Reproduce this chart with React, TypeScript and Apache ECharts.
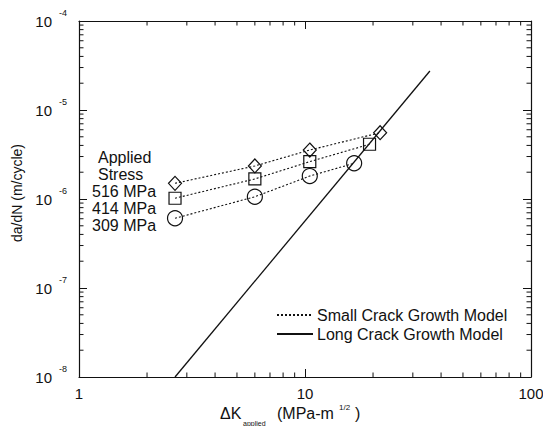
import React, { useEffect, useRef } from 'react';
import * as echarts from 'echarts';

const FONT = '"Liberation Sans", Arial, Helvetica, sans-serif';
const INK = '#111';

// Axis ranges
const X_MIN = 1;
const X_MAX = 100;
const Y_MIN = 1e-8;
const Y_MAX = 1e-4;

// Small-crack growth model predictions, one set per applied stress
const stressLabels = ['516 MPa', '414 MPa', '309 MPa'];
const dK516 = [2.66, 6.0, 10.5, 21.5];
const rate516 = [1.5e-6, 2.35e-6, 3.55e-6, 5.56e-6];
const dK414 = [2.66, 6.0, 10.5, 19.3];
const rate414 = [1.02e-6, 1.68e-6, 2.63e-6, 4.12e-6];
const dK309 = [2.66, 6.0, 10.5, 16.5];
const rate309 = [6.07e-7, 1.06e-6, 1.81e-6, 2.52e-6];

// Long-crack growth model (straight line on log-log axes)
const dKLong = [2.66, 35.7];
const rateLong = [1e-8, 2.74e-5];

// Minor tick positions (2..9 within each decade)
const minorMultipliers = [2, 3, 4, 5, 6, 7, 8, 9];
const xDecades = [1, 10];
const yDecades = [1e-8, 1e-7, 1e-6, 1e-5];

const zip = (xs: number[], ys: number[]) => xs.map((x, i) => [x, ys[i]]);

export default function App() {
  const ref = useRef<HTMLDivElement>(null);

  useEffect(() => {
    if (!ref.current) return;
    const chart = echarts.init(ref.current, undefined, { renderer: 'svg' });

    const minorData: number[][] = [];
    xDecades.forEach((d) => minorMultipliers.forEach((m) => minorData.push([d * m, Y_MIN, 0])));
    yDecades.forEach((d) => minorMultipliers.forEach((m) => minorData.push([X_MIN, d * m, 1])));

    const tickStyle = { stroke: INK, lineWidth: 1 };
    const MINOR_LEN = 4.5;

    const axisLine = { show: true, onZero: false, lineStyle: { color: INK, width: 1.2 } };
    const axisTick = { show: true, inside: true, length: 8, lineStyle: { color: INK, width: 1 } };

    const smallLine = { color: INK, width: 1.1, type: [2, 2] as number[] };
    const hollow = { color: 'rgba(0,0,0,0)', borderColor: INK, borderWidth: 1.2 };

    const markerSeries = [
      { data: zip(dK516, rate516), symbol: 'diamond', symbolSize: [13, 14] },
      { data: zip(dK414, rate414), symbol: 'rect', symbolSize: 12 },
      { data: zip(dK309, rate309), symbol: 'circle', symbolSize: 15 },
    ].map((s, i) => ({
      type: 'line',
      name: stressLabels[i],
      data: s.data,
      symbol: s.symbol,
      symbolSize: s.symbolSize,
      showSymbol: true,
      itemStyle: hollow,
      lineStyle: smallLine,
      silent: true,
      z: 3,
    }));

    const txt = (text: string, x: number, y: number, fontSize: number, align = 'left') => ({
      type: 'text',
      x,
      y,
      style: {
        text,
        fontSize,
        fontFamily: FONT,
        fill: INK,
        align,
        verticalAlign: 'middle',
      },
    });

    chart.setOption({
      animation: false,
      backgroundColor: '#fff',
      grid: { left: 79, right: 12, top: 21, bottom: 49, containLabel: false, outerBoundsMode: 'none' },
      xAxis: [
        {
          type: 'log',
          logBase: 10,
          min: X_MIN,
          max: X_MAX,
          position: 'bottom',
          axisLine,
          axisTick,
          splitLine: { show: false },
          axisLabel: {
            margin: 9,
            fontSize: 15,
            fontFamily: FONT,
            color: INK,
            formatter: (v: number) => String(Math.round(v)),
          },
        },
        {
          type: 'log',
          logBase: 10,
          min: X_MIN,
          max: X_MAX,
          position: 'top',
          axisLine,
          axisTick,
          splitLine: { show: false },
          axisLabel: { show: false },
        },
      ],
      yAxis: [
        {
          type: 'log',
          logBase: 10,
          min: Y_MIN,
          max: Y_MAX,
          position: 'left',
          axisLine,
          axisTick,
          splitLine: { show: false },
          axisLabel: {
            margin: 12,
            formatter: (v: number) => `{b|10}{s|${Math.round(Math.log10(v))}}`,
            rich: {
              b: { fontSize: 15, fontFamily: FONT, color: INK, lineHeight: 26 },
              s: { fontSize: 9, fontFamily: FONT, color: INK, verticalAlign: 'top', padding: [0, 0, 0, 7] },
            },
          },
        },
        {
          type: 'log',
          logBase: 10,
          min: Y_MIN,
          max: Y_MAX,
          position: 'right',
          axisLine,
          axisTick,
          splitLine: { show: false },
          axisLabel: { show: false },
        },
      ],
      legend: {
        orient: 'vertical',
        left: 276,
        top: 307,
        padding: 0,
        itemWidth: 36,
        itemHeight: 14,
        itemGap: 3,
        selectedMode: false,
        itemStyle: { opacity: 0, borderWidth: 0 },
        data: ['Small Crack Growth Model', 'Long Crack Growth Model'],
        textStyle: { fontSize: 16, fontFamily: FONT, color: INK, padding: [0, 0, 0, -1] },
      },
      series: [
        {
          type: 'custom',
          silent: true,
          xAxisIndex: 0,
          yAxisIndex: 0,
          data: minorData,
          encode: { x: 0, y: 1 },
          clip: false,
          renderItem: (params: any, api: any) => {
            const cs = params.coordSys;
            const kind = api.value(2);
            if (kind === 0) {
              const px = api.coord([api.value(0), Y_MIN])[0];
              const bottom = cs.y + cs.height;
              return {
                type: 'group',
                children: [
                  { type: 'line', shape: { x1: px, y1: bottom, x2: px, y2: bottom - MINOR_LEN }, style: tickStyle },
                  { type: 'line', shape: { x1: px, y1: cs.y, x2: px, y2: cs.y + MINOR_LEN }, style: tickStyle },
                ],
              };
            }
            const py = api.coord([X_MIN, api.value(1)])[1];
            const right = cs.x + cs.width;
            return {
              type: 'group',
              children: [
                { type: 'line', shape: { x1: cs.x, y1: py, x2: cs.x + MINOR_LEN, y2: py }, style: tickStyle },
                { type: 'line', shape: { x1: right, y1: py, x2: right - MINOR_LEN, y2: py }, style: tickStyle },
              ],
            };
          },
        },
        {
          type: 'line',
          name: 'Long Crack Growth Model',
          data: zip(dKLong, rateLong),
          symbol: 'none',
          lineStyle: { color: INK, width: 1.3 },
          itemStyle: { color: INK },
          silent: true,
          z: 2,
        },
        {
          type: 'line',
          name: 'Small Crack Growth Model',
          data: [],
          symbol: 'none',
          lineStyle: smallLine,
          itemStyle: { color: INK },
        },
        ...markerSeries,
      ],
      graphic: [
        {
          type: 'text',
          x: 17,
          y: 193,
          rotation: Math.PI / 2,
          style: {
            text: 'da/dN (m/cycle)',
            fontSize: 14,
            fontFamily: FONT,
            fill: INK,
            align: 'center',
            verticalAlign: 'middle',
          },
        },
        txt('\u0394K', 220, 413, 16),
        txt('applied', 243, 423, 7),
        txt('(MPa-m', 277, 413, 16),
        txt('1/2', 339, 407, 8),
        txt(')', 355, 413, 16),
        txt('Applied', 98, 157, 16),
        txt('Stress', 98, 174, 16),
        txt(stressLabels[0], 92, 191.5, 16),
        txt(stressLabels[1], 92, 208, 16),
        txt(stressLabels[2], 92, 225, 16),
      ],
    });

    return () => chart.dispose();
  }, []);

  return (
    <div
      ref={ref}
      style={{ position: 'absolute', left: 0, top: 0, width: 543, height: 426, background: '#fff' }}
    />
  );
}
